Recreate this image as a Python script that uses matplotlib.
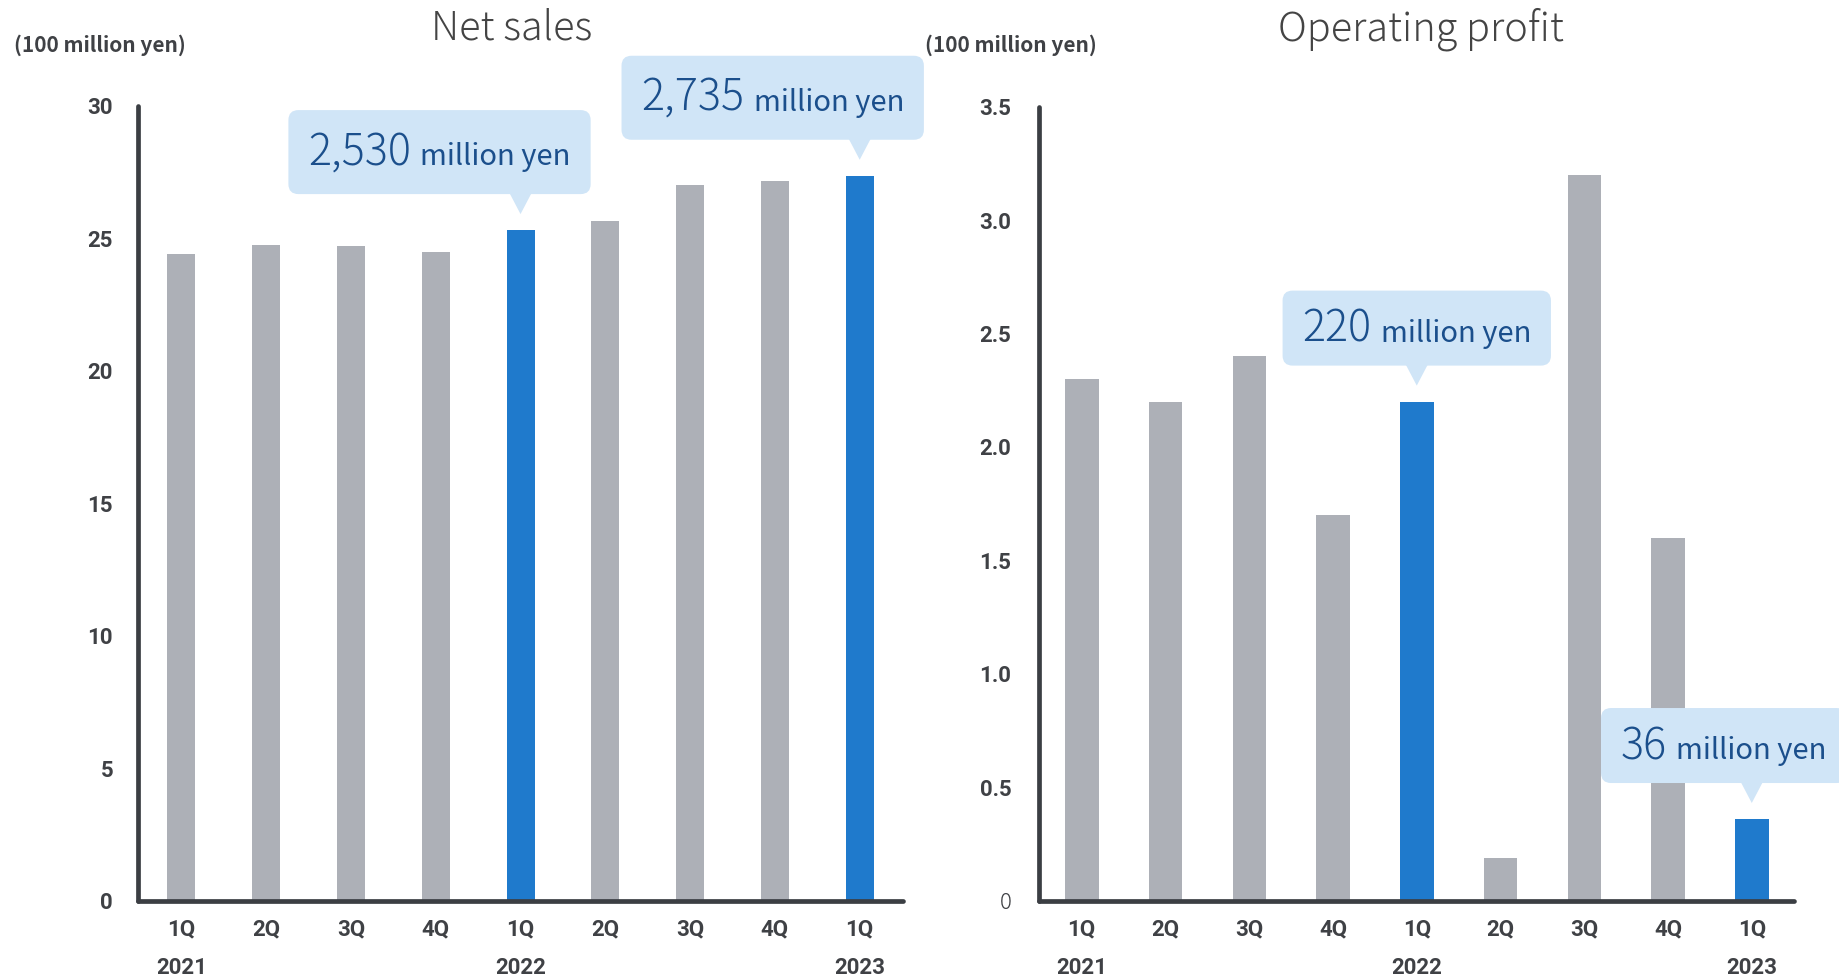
import matplotlib.pyplot as plt
from matplotlib.patches import FancyBboxPatch, Polygon
from matplotlib.transforms import IdentityTransform

# Datos (100 millones de yenes)
quarters = ['1Q', '2Q', '3Q', '4Q', '1Q', '2Q', '3Q', '4Q', '1Q']
years = ['2021', '', '', '', '2022', '', '', '', '2023']
net_sales = [24.38, 24.73, 24.69, 24.47, 25.30, 25.66, 26.99, 27.17, 27.35]
op_profit = [2.30, 2.20, 2.40, 1.70, 2.20, 0.19, 3.20, 1.60, 0.36]
highlight = [4, 8]
sales_notes = {4: '2,530', 8: '2,735'}
profit_notes = {4: '220', 8: '36'}

GREY = '#ADB0B7'
BLUE = '#1F7ACC'
AXIS = '#3B3E43'
BOX = '#D0E5F7'
NAVY = '#1B4F8C'
TXT = '#3F4145'

plt.rcParams['font.family'] = ['Noto Sans CJK JP', 'DejaVu Sans']

fig = plt.figure(figsize=(18.39, 9.77), dpi=100)
ax1 = fig.add_axes([0.0751, 0.0781, 0.4159, 0.8139])
ax2 = fig.add_axes([0.5650, 0.0781, 0.4108, 0.8127])

labels = [q + ('\n' + y if y else '') for q, y in zip(quarters, years)]
x = list(range(len(quarters)))


def setup(ax, vals, width, ylim, yticks, ylabels, pad):
    colors = [BLUE if i in highlight else GREY for i in x]
    ax.bar(x, vals, width=width, color=colors, zorder=1)
    ax.set_xlim(-0.51, len(x) - 0.49)
    ax.set_ylim(*ylim)
    for s in ['top', 'right']:
        ax.spines[s].set_visible(False)
    for s in ['left', 'bottom']:
        ax.spines[s].set_color(AXIS)
        ax.spines[s].set_linewidth(3.4)
        ax.spines[s].set_capstyle('round')
        ax.spines[s].set_zorder(3)
    ax.set_xticks(x)
    ax.set_xticklabels(labels, linespacing=1.95)
    ax.set_yticks(yticks)
    ax.set_yticklabels(ylabels)
    ax.tick_params(axis='both', length=0, colors=TXT)
    ax.tick_params(axis='x', pad=13)
    ax.tick_params(axis='y', pad=pad)
    for t in ax.get_xticklabels() + ax.get_yticklabels():
        t.set_family(['Roboto', 'DejaVu Sans'])
        t.set_fontweight('bold')
        t.set_fontsize(16)


setup(ax1, net_sales, 0.33, (0, 30), [0, 5, 10, 15, 20, 25, 30],
      ['0', '5', '10', '15', '20', '25', '30'], 18)
setup(ax2, op_profit, 0.40, (0, 3.5), [0, 0.5, 1.0, 1.5, 2.0, 2.5, 3.0, 3.5],
      ['0', '0.5', '1.0', '1.5', '2.0', '2.5', '3.0', '3.5'], 20)
# el cero del segundo eje va fino
z = ax2.get_yticklabels()[0]
z.set_fontweight('light')
z.set_family(['Noto Sans CJK JP'])

# Titulos y unidades
fig.text(512 / 1839, 1 - 29 / 977, 'Net sales', ha='center', va='center',
         fontsize=28.5, fontweight='light', color='#444444')
fig.text(1421 / 1839, 1 - 29 / 977, 'Operating profit', ha='center', va='center',
         fontsize=28.5, fontweight='light', color='#444444')
fig.text(14 / 1839, 1 - 45 / 977, '(100 million yen)', ha='left', va='center',
         fontsize=15, fontweight='bold', color=TXT)
fig.text(925 / 1839, 1 - 45 / 977, '(100 million yen)', ha='left', va='center',
         fontsize=15, fontweight='bold', color=TXT)

fig.canvas.draw()
renderer = fig.canvas.get_renderer()
ident = IdentityTransform()


# Globo con el valor encima de la barra
def callout(ax, i, value, num, shift, box_h, base_off, big=31, small=21):
    xd, yd = ax.transData.transform((i, value))
    tip_y = yd + 16
    base_y = tip_y + 20
    tri = Polygon([[xd, tip_y], [xd - 11, base_y + 1], [xd + 11, base_y + 1]],
                  closed=True, facecolor=BOX, edgecolor='none', transform=ident)
    fig.add_artist(tri)
    t1 = fig.text(0, 0, num, fontsize=big, fontweight='light', color=NAVY,
                  transform=ident, ha='left', va='baseline', zorder=5)
    t2 = fig.text(0, 0, 'million yen', fontsize=small, color=NAVY, transform=ident,
                  ha='left', va='baseline', zorder=5)
    w1 = t1.get_window_extent(renderer).width
    w2 = t2.get_window_extent(renderer).width
    gap = 9
    total = w1 + gap + w2
    cx = xd + shift
    x0 = cx - total / 2
    yb = base_y + base_off
    t1.set_position((x0, yb))
    t2.set_position((x0 + w1 + gap, yb))
    padx = 20
    box = FancyBboxPatch((x0 - padx, base_y), total + 2 * padx, box_h,
                         boxstyle='round,pad=0,rounding_size=10',
                         facecolor=BOX, edgecolor='none', transform=ident, zorder=4)
    fig.add_artist(box)


callout(ax1, 4, net_sales[4], sales_notes[4], -81, 84, 29)
callout(ax1, 8, net_sales[8], sales_notes[8], -87, 84, 29)
callout(ax2, 4, op_profit[4], profit_notes[4], 0, 75, 24)
callout(ax2, 8, op_profit[8], profit_notes[8], -28, 75, 24)

fig.savefig('out.png', dpi=100)
